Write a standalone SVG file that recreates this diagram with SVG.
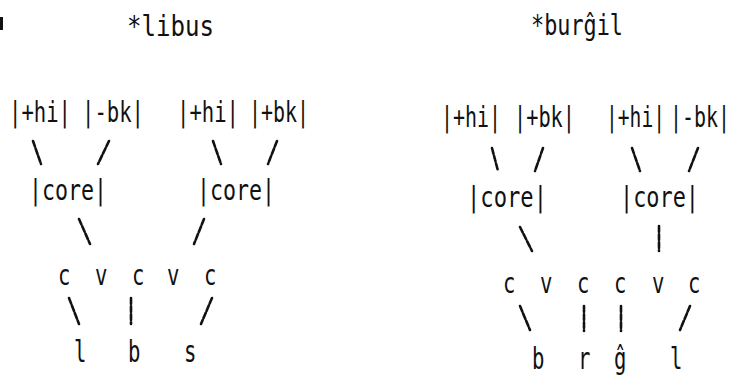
<svg xmlns="http://www.w3.org/2000/svg" width="733" height="378" viewBox="0 0 733 378">
<style>
text{font-family:"DejaVu Sans Mono","Liberation Mono",monospace;font-size:20.6px;fill:#111;}
text.t{font-size:24px;}
.c{stroke:#111;stroke-width:2.6;stroke-linecap:round;stroke-dasharray:6 2;fill:none;}
</style>
<rect width="733" height="378" fill="#fff"/>
<rect x="0" y="17" width="3" height="13" fill="#111"/>
<g id="title-libus"><text class="t" transform="translate(127,36) scale(1,1.2)" textLength="87" lengthAdjust="spacingAndGlyphs">*libus</text></g>
<g id="title-burgil"><text class="t" transform="translate(531,35) scale(1,1.2)" textLength="92" lengthAdjust="spacingAndGlyphs">*burĝil</text></g>
<g id="L-f1"><text transform="translate(9,122) scale(1,1.4)" textLength="62" lengthAdjust="spacingAndGlyphs">|+hi|</text></g>
<g id="L-f2"><text transform="translate(82,122) scale(1,1.4)" textLength="62" lengthAdjust="spacingAndGlyphs">|-bk|</text></g>
<g id="L-f3"><text transform="translate(177,122) scale(1,1.4)" textLength="62" lengthAdjust="spacingAndGlyphs">|+hi|</text></g>
<g id="L-f4"><text transform="translate(249,122) scale(1,1.4)" textLength="60" lengthAdjust="spacingAndGlyphs">|+bk|</text></g>
<g id="R-f1"><text transform="translate(441,127) scale(1,1.4)" textLength="60" lengthAdjust="spacingAndGlyphs">|+hi|</text></g>
<g id="R-f2"><text transform="translate(514,127) scale(1,1.4)" textLength="61" lengthAdjust="spacingAndGlyphs">|+bk|</text></g>
<g id="R-f3"><text transform="translate(606,127) scale(1,1.4)" textLength="59" lengthAdjust="spacingAndGlyphs">|+hi|</text></g>
<g id="R-f4"><text transform="translate(670,127) scale(1,1.4)" textLength="60" lengthAdjust="spacingAndGlyphs">|-bk|</text></g>
<g id="L-core1"><text transform="translate(29,200) scale(1,1.4)" textLength="78" lengthAdjust="spacingAndGlyphs">|core|</text></g>
<g id="L-core2"><text transform="translate(197,200) scale(1,1.4)" textLength="78" lengthAdjust="spacingAndGlyphs">|core|</text></g>
<g id="R-core1"><text transform="translate(467,207) scale(1,1.4)" textLength="80" lengthAdjust="spacingAndGlyphs">|core|</text></g>
<g id="R-core2"><text transform="translate(620,207) scale(1,1.4)" textLength="79" lengthAdjust="spacingAndGlyphs">|core|</text></g>
<g id="L-skel">
<text transform="translate(58,285) scale(1,1.4)">c</text>
<text transform="translate(95,285) scale(1,1.4)">v</text>
<text transform="translate(132,285) scale(1,1.4)">c</text>
<text transform="translate(167,285) scale(1,1.4)">v</text>
<text transform="translate(204,285) scale(1,1.4)">c</text>
</g>
<g id="R-skel">
<text transform="translate(503,293) scale(1,1.4)">c</text>
<text transform="translate(540,293) scale(1,1.4)">v</text>
<text transform="translate(577,293) scale(1,1.4)">c</text>
<text transform="translate(614,293) scale(1,1.4)">c</text>
<text transform="translate(652,293) scale(1,1.4)">v</text>
<text transform="translate(688,293) scale(1,1.4)">c</text>
</g>
<g id="L-seg">
<text transform="translate(74,362) scale(1,1.45)">l</text>
<text transform="translate(128,362) scale(1,1.45)">b</text>
<text transform="translate(184,362) scale(1,1.45)">s</text>
</g>
<g id="R-seg">
<text transform="translate(532,369) scale(1,1.45)">b</text>
<text transform="translate(578,369) scale(1,1.45)">r</text>
<text transform="translate(614,369) scale(1,1.45)">ĝ</text>
<text transform="translate(670,369) scale(1,1.45)">l</text>
</g>
<g id="connectors">
<line class="c" x1="33" y1="141" x2="41" y2="164"/>
<line class="c" x1="109" y1="141" x2="98" y2="164"/>
<line class="c" x1="213" y1="141" x2="221" y2="164"/>
<line class="c" x1="277" y1="141" x2="268" y2="164"/>
<line class="c" x1="79" y1="219" x2="90" y2="244"/>
<line class="c" x1="204" y1="219" x2="194" y2="244"/>
<line class="c" x1="69" y1="298" x2="79" y2="324"/>
<line class="c" x1="131" y1="298" x2="131" y2="324"/>
<line class="c" x1="212" y1="298" x2="201" y2="324"/>
<line class="c" x1="492" y1="148" x2="498" y2="171"/>
<line class="c" x1="543" y1="148" x2="535" y2="171"/>
<line class="c" x1="632" y1="148" x2="640" y2="171"/>
<line class="c" x1="698" y1="148" x2="689" y2="171"/>
<line class="c" x1="520" y1="227" x2="532" y2="251"/>
<line class="c" x1="659" y1="226" x2="659" y2="251"/>
<line class="c" x1="520" y1="306" x2="530" y2="330"/>
<line class="c" x1="584" y1="306" x2="584" y2="331"/>
<line class="c" x1="621" y1="306" x2="621" y2="331"/>
<line class="c" x1="690" y1="306" x2="680" y2="330"/>
</g>
</svg>
